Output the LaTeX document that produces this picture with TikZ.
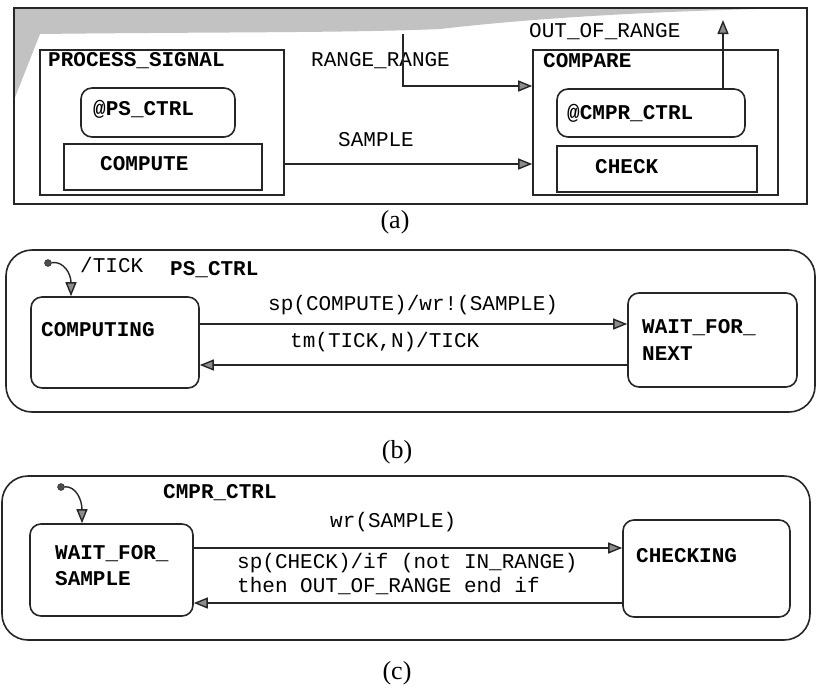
\documentclass[tikz,border=0pt]{standalone}
\usepackage{fontspec}
\newfontfamily\cour{Liberation Mono}
\newfontfamily\capfont{Liberation Serif}
\usetikzlibrary{arrows.meta}
\begin{document}
\begin{tikzpicture}[x=1pt,y=-1pt,
  box/.style={draw=black!85, line width=1.6pt, inner sep=0pt},
  rbox/.style={box, rounded corners=11pt},
  obox/.style={box, rounded corners=26pt},
  txt/.style={font=\cour\fontsize{21}{25}\selectfont, inner sep=0pt, anchor=west},
  btxt/.style={font=\cour\bfseries\fontsize{21}{25}\selectfont, inner sep=0pt, anchor=west},
  arr/.style={line width=1.4pt, draw=black!85, -{Triangle[length=14pt,width=11pt,fill=black!45]}},
  dot/.style={circle, fill=black!70, draw=black!85, minimum size=7pt, inner sep=0pt},
  captxt/.style={font=\capfont\fontsize{26}{31}\selectfont, inner sep=0pt}]
\useasboundingbox (0,0) rectangle (817,689);

% ---------------- (a) ----------------
\fill[black!24] (14,8) -- (800,8) .. controls (700,10) and (560,15) .. (440,29)
  .. controls (350,33) and (200,32) .. (40,34) -- (14,100) -- cycle;
\node[box, minimum width=793pt, minimum height=196pt] (pa) at (410.5,106) {};

\node[box, minimum width=244pt, minimum height=145pt] (ps) at (162,122.5) {};
\node[rbox, minimum width=154pt, minimum height=49pt] (psctrl) at (158,112.5) {};
\node[box, minimum width=198pt, minimum height=46pt] (compute) at (163,167) {};
\node[btxt] (tps) at (48,61) {PROCESS\_SIGNAL};
\node[btxt] (tpsctrl) at (93,109) {@PS\_CTRL};
\node[btxt] (tcompute) at (100,164) {COMPUTE};

\node[box, minimum width=245pt, minimum height=145pt] (cmp) at (655.5,122.5) {};
\node[rbox, minimum width=188pt, minimum height=48pt] (cmprctrl) at (651,113) {};
\node[box, minimum width=200pt, minimum height=46pt] (check) at (657,169) {};
\node[btxt] (tcmp) at (543,61) {COMPARE};
\node[btxt] (tcmprctrl) at (567,113) {@CMPR\_CTRL};
\node[btxt] (tcheck) at (595,167) {CHECK};

\node[txt] (lrr) at (311,61) {RANGE\_RANGE};
\node[txt] (lsample) at (338,140) {SAMPLE};
\node[txt] (loor) at (529,32) {OUT\_OF\_RANGE};

\coordinate (ySample) at (0,164);
\coordinate (yRange) at (0,86);
\coordinate (rr) at (403,34);
\coordinate (oor) at (723,20);
\draw[arr] (ps.east |- ySample) -- (cmp.west |- ySample);
\draw[arr] (rr) |- (cmp.west |- yRange);
\draw[arr] (cmprctrl.north -| oor) -- (oor);

\node[captxt] (capa) at (395,222) {(a)};

% ---------------- (b) ----------------
\node[obox, minimum width=809pt, minimum height=162pt] (pb) at (410.5,331) {};
\node[rbox, minimum width=168pt, minimum height=91pt] (computing) at (115,342.5) {};
\node[rbox, minimum width=169pt, minimum height=94pt] (wfn) at (712.5,340) {};
\node[btxt] (tcomputing) at (41,330) {COMPUTING};
\node[btxt] (twfn1) at (642,328) {WAIT\_FOR\_};
\node[btxt] (twfn2) at (642,354) {NEXT};
\node[btxt] (tpsc) at (170,270) {PS\_CTRL};
\node[txt] (ltick) at (80,265) {/TICK};
\node[txt] (lsp) at (268,305) {sp(COMPUTE)/wr!(SAMPLE)};
\node[txt] (ltm) at (290,342) {tm(TICK,N)/TICK};

\coordinate (yb1) at (0,324);
\coordinate (yb2) at (0,365);
\draw[arr] (computing.east |- yb1) -- (wfn.west |- yb1);
\draw[arr] (wfn.west |- yb2) -- (computing.east |- yb2);
\node[dot] (ib) at (48,263) {};
\coordinate (tb) at (71,0);
\draw[arr] (ib) .. controls (64,261) and (71,274) .. (computing.north -| tb);

\node[captxt] (capb) at (397,452) {(b)};

% ---------------- (c) ----------------
\node[obox, minimum width=808pt, minimum height=164pt] (pc) at (406,558) {};
\node[rbox, minimum width=163pt, minimum height=92pt] (wfs) at (111.5,570) {};
\node[rbox, minimum width=167pt, minimum height=97pt] (checking) at (706.5,568.5) {};
\node[btxt] (twfs1) at (55,554) {WAIT\_FOR\_};
\node[btxt] (twfs2) at (55,579) {SAMPLE};
\node[btxt] (tchecking) at (636,556) {CHECKING};
\node[btxt] (tcmprc) at (163,493) {CMPR\_CTRL};
\node[txt] (lwr) at (330,522) {wr(SAMPLE)};
\node[txt] (lsp1) at (237,563) {sp(CHECK)/if (not IN\_RANGE)};
\node[txt] (lsp2) at (237,586) {then OUT\_OF\_RANGE end if};

\coordinate (yc1) at (0,548);
\coordinate (yc2) at (0,603);
\draw[arr] (wfs.east |- yc1) -- (checking.west |- yc1);
\draw[arr] (checking.west |- yc2) -- (wfs.east |- yc2);
\node[dot] (ic) at (61,487) {};
\coordinate (tc) at (82,0);
\draw[arr] (ic) .. controls (76,486) and (82,500) .. (wfs.north -| tc);

\node[captxt] (capc) at (397,673) {(c)};
\end{tikzpicture}
\end{document}
